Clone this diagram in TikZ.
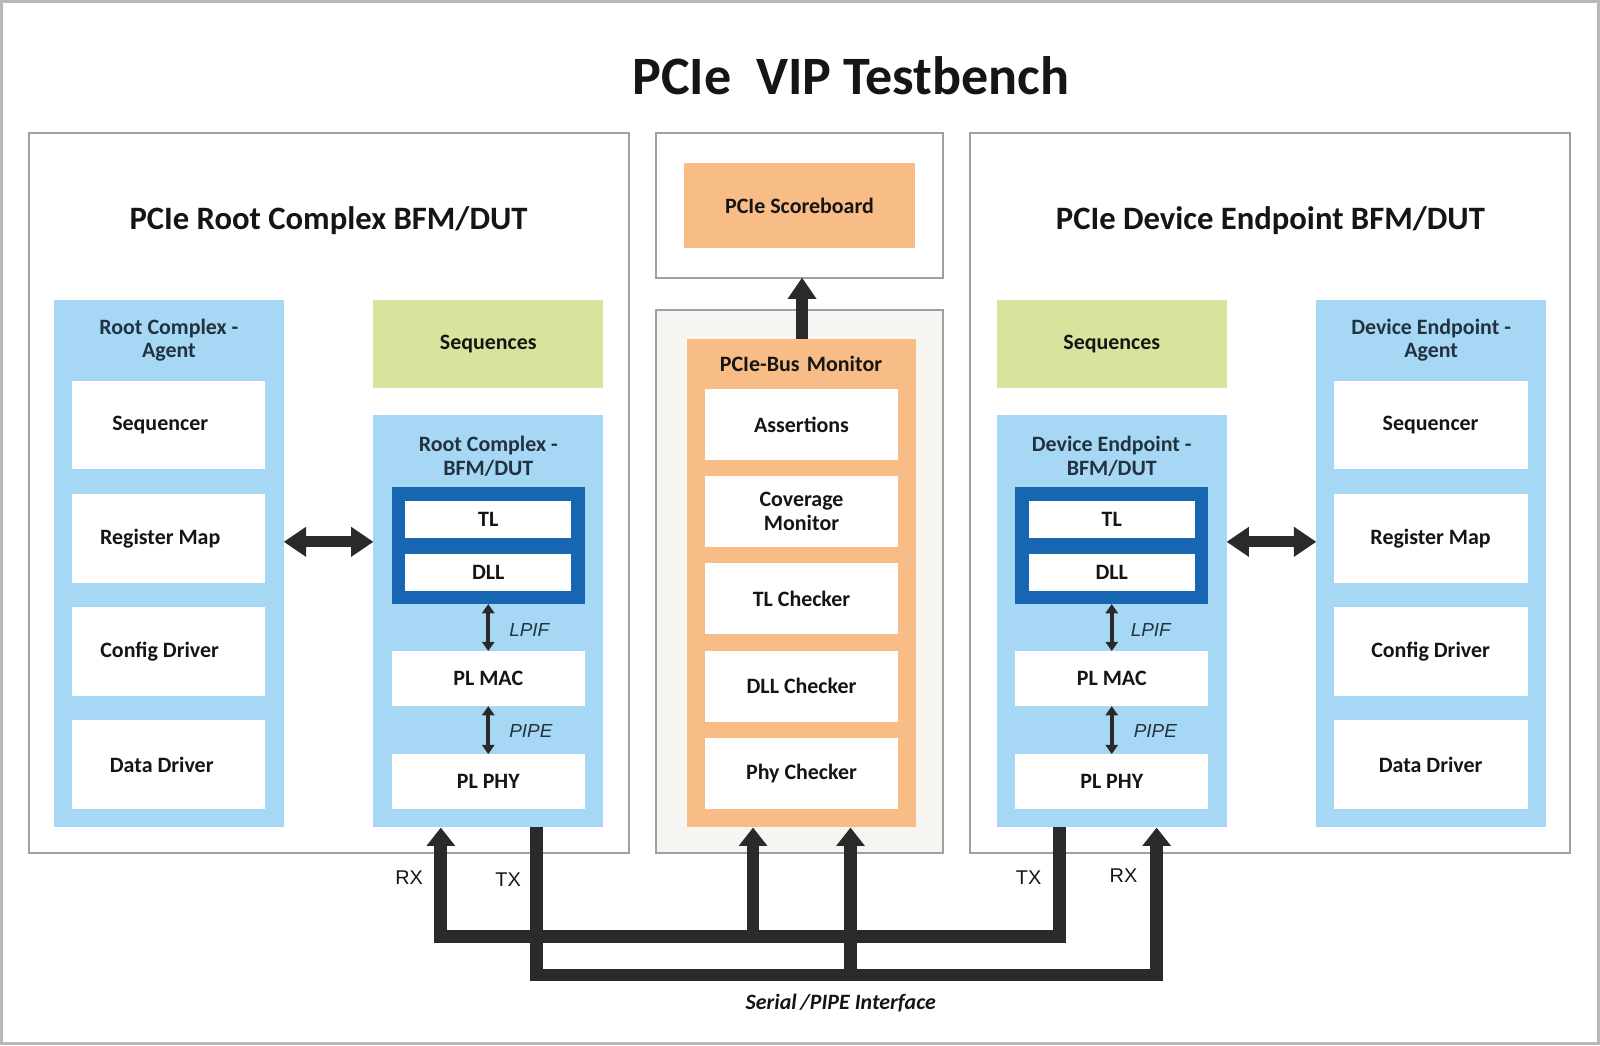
\documentclass[tikz,border=0pt]{standalone}
\usepackage{fontspec}
\setmainfont{Carlito}
\newfontfamily\arialf{Liberation Sans}
\usetikzlibrary{arrows.meta}
\definecolor{lblue}{HTML}{A6D8F5}
\definecolor{dblue}{HTML}{1766B2}
\definecolor{lgreen}{HTML}{D8E39C}
\definecolor{orng}{HTML}{F8BC86}
\definecolor{fgray}{HTML}{A0A0A0}
\definecolor{ogray}{HTML}{B8B8B8}
\definecolor{offw}{HTML}{F7F5F2}
\definecolor{txt}{HTML}{151515}
\definecolor{slate}{HTML}{23323F}
\definecolor{arr}{HTML}{2A2A2A}
\begin{document}
\begin{tikzpicture}[x=1pt,y=-1pt,
  basebox/.style={inner sep=0pt, outer sep=0pt, align=center, text=txt,
    font=\bfseries\fontsize{21.5}{23}\selectfont},
  gframe/.style={basebox, draw=fgray, line width=2pt, fill=white},
  wbox/.style={basebox, fill=white},
  bluebox/.style={basebox, fill=lblue},
  greenbox/.style={basebox, fill=lgreen},
  orbox/.style={basebox, fill=orng},
  darkbox/.style={basebox, fill=dblue},
  ctitle/.style={align=center, text=slate, inner sep=0pt,
    font=\bfseries\fontsize{21.5}{23}\selectfont},
  sectitle/.style={anchor=base, inner sep=0pt, text=txt,
    font=\bfseries\fontsize{32}{36}\selectfont},
  ifl/.style={anchor=west, inner sep=0pt, text=slate,
    font=\arialf\itshape\fontsize{18.5}{20}\selectfont},
  rxtx/.style={inner sep=0pt, text=txt, font=\arialf\fontsize{19.5}{22}\selectfont},
  bus/.style={line width=12.5pt, draw=arr, line join=miter},
  up/.style={-{Triangle[width=27pt,length=18pt]}},
  dbl/.style={line width=11pt, draw=arr, {Triangle[width=28pt,length=22pt]}-{Triangle[width=28pt,length=22pt]}},
  thin/.style={line width=3.5pt, draw=arr, {Triangle[width=12pt,length=9pt]}-{Triangle[width=12pt,length=9pt]}},
  fat/.style={line width=12pt, draw=arr, -{Triangle[width=27pt,length=21pt]}}
]
\useasboundingbox (0,0) rectangle (1568,1024.2);
\draw[ogray, line width=3pt] (1.5,1.5) rectangle (1566.5,1022.7);

% title
\node[anchor=base, inner sep=0pt, text=txt, font=\bfseries\fontsize{53}{60}\selectfont]
  (title) at (834,93) {PCIe~ VIP Testbench};

% big frames
\node[gframe, minimum width=588, minimum height=706] (lframe) at (322,483) {};
\node[gframe, minimum width=588, minimum height=706] (rframe) at (1245,483) {};
\node[gframe, minimum width=281, minimum height=142] (topc) at (783.5,201) {};
\node[gframe, fill=offw, minimum width=281, minimum height=532] (botc) at (783.5,570) {};

\node[sectitle] (ltitle) at (322,225) {PCIe Root Complex BFM/DUT};
\node[sectitle] (rtitle) at (1245,225) {PCIe Device Endpoint BFM/DUT};

% center
\node[orbox, minimum width=227, minimum height=83] (score) at (783.5,201.5) {PCIe Scoreboard};
\node[orbox, minimum width=225, minimum height=478] (mon) at (785.5,571) {};
\node[ctitle, text=txt] (montitle) at (785,357) {PCIe-Bus\,\,Monitor};
\node[wbox, minimum width=189, minimum height=70] (assert) at (785.5,416) {Assertions};
\node[wbox, minimum width=189, minimum height=70] (cov) at (785.5,501) {Coverage\\Monitor};
\node[wbox, minimum width=189, minimum height=70] (tlc) at (785.5,586.5) {TL Checker};
\node[wbox, minimum width=189, minimum height=70] (dllc) at (785.5,672.5) {DLL Checker};
\node[wbox, minimum width=189, minimum height=70] (phyc) at (785.5,758) {Phy Checker};

% left agent
\node[bluebox, minimum width=225, minimum height=516] (lagent) at (165.5,552) {};
\node[ctitle] (lagtitle) at (165.5,333.5) {Root Complex -\\Agent};
\node[wbox, minimum width=189, minimum height=87] (lseqr) at (165.5,416.5) {Sequencer\hspace*{17pt}};
\node[wbox, minimum width=189, minimum height=87] (lreg) at (165.5,527.5) {Register Map\hspace*{17pt}};
\node[wbox, minimum width=189, minimum height=87] (lcfg) at (165.5,638.5) {Config Driver\hspace*{18pt}};
\node[wbox, minimum width=189, minimum height=87] (ldata) at (165.5,749.5) {Data Driver\hspace*{14pt}};

% left BFM
\node[greenbox, minimum width=225, minimum height=86] (lseqs) at (478.5,337) {Sequences};
\node[bluebox, minimum width=225, minimum height=403] (lbfm) at (478.5,608.5) {};
\node[ctitle] (lbfmtitle) at (478.5,447) {Root Complex -\\BFM/DUT};
\node[darkbox, minimum width=189, minimum height=115] (ldark) at (478.5,534.5) {};
\node[wbox, minimum width=163, minimum height=36] (ltl) at (478.5,509) {TL};
\node[wbox, minimum width=163, minimum height=36] (ldll) at (478.5,561) {DLL};
\node[wbox, minimum width=189, minimum height=54] (lmac) at (478.5,665) {PL MAC};
\node[wbox, minimum width=189, minimum height=54] (lphy) at (478.5,766) {PL PHY};
\draw[thin] (ldark.south) -- (lmac.north);
\draw[thin] (lmac.south) -- (lphy.north);
\node[ifl] (llpif) at (499,617) {LPIF};
\node[ifl] (lpipe) at (499,716) {PIPE};

% right BFM
\node[greenbox, minimum width=225, minimum height=86] (rseqs) at (1089.5,337) {Sequences};
\node[bluebox, minimum width=225, minimum height=403] (rbfm) at (1089.5,608.5) {};
\node[ctitle] (rbfmtitle) at (1089.5,447) {Device Endpoint -\\BFM/DUT};
\node[darkbox, minimum width=189, minimum height=115] (rdark) at (1089.5,534.5) {};
\node[wbox, minimum width=163, minimum height=36] (rtl) at (1089.5,509) {TL};
\node[wbox, minimum width=163, minimum height=36] (rdll) at (1089.5,561) {DLL};
\node[wbox, minimum width=189, minimum height=54] (rmac) at (1089.5,665) {PL MAC};
\node[wbox, minimum width=189, minimum height=54] (rphy) at (1089.5,766) {PL PHY};
\draw[thin] (rdark.south) -- (rmac.north);
\draw[thin] (rmac.south) -- (rphy.north);
\node[ifl] (rlpif) at (1108,617) {LPIF};
\node[ifl] (rpipe) at (1111,716) {PIPE};

% right agent
\node[bluebox, minimum width=225, minimum height=516] (ragent) at (1402.5,552) {};
\node[ctitle] (ragtitle) at (1402.5,333.5) {Device Endpoint -\\Agent};
\node[wbox, minimum width=190, minimum height=87] (rseqr) at (1402,416.5) {Sequencer};
\node[wbox, minimum width=190, minimum height=87] (rreg) at (1402,527.5) {Register Map};
\node[wbox, minimum width=190, minimum height=87] (rcfg) at (1402,638.5) {Config Driver};
\node[wbox, minimum width=190, minimum height=87] (rdata) at (1402,749.5) {Data Driver};

% agent <-> BFM arrows
\coordinate (mid) at (0,531);
\draw[dbl] (lagent.east |- mid) -- (lbfm.west |- mid);
\draw[dbl] (rbfm.east |- mid) -- (ragent.west |- mid);

% monitor -> scoreboard
\draw[fat] (mon.north -| 786,0) -- (topc.south -| 786,0);

% buses
\coordinate (ub) at (0,917.8);
\coordinate (lb) at (0,955.5);
\coordinate (lrx) at (432,811);
\coordinate (ltx) at (526,810);
\coordinate (m1) at (738,811);
\coordinate (m2) at (833.5,811);
\coordinate (rtx) at (1038.5,810);
\coordinate (rrx) at (1133.5,811);
\draw[bus, up] (rtx) -- (rtx |- ub) -- (lrx |- ub) -- (lrx);
\draw[bus, up] (ltx) -- (ltx |- lb) -- (rrx |- lb) -- (rrx);
\draw[bus, up] (m1 |- ub) -- (m1);
\draw[bus, up] (m2 |- lb) -- (m2);

\node[rxtx] (lrxl) at (401,860) {RX};
\node[rxtx] (ltxl) at (498,862) {TX};
\node[rxtx] (rtxl) at (1008,860) {TX};
\node[rxtx] (rrxl) at (1101,858) {RX};
\node[inner sep=0pt, text=txt, font=\bfseries\itshape\fontsize{21.5}{23}\selectfont]
  (serial) at (824,983) {Serial\,/PIPE Interface};
\end{tikzpicture}
\end{document}
